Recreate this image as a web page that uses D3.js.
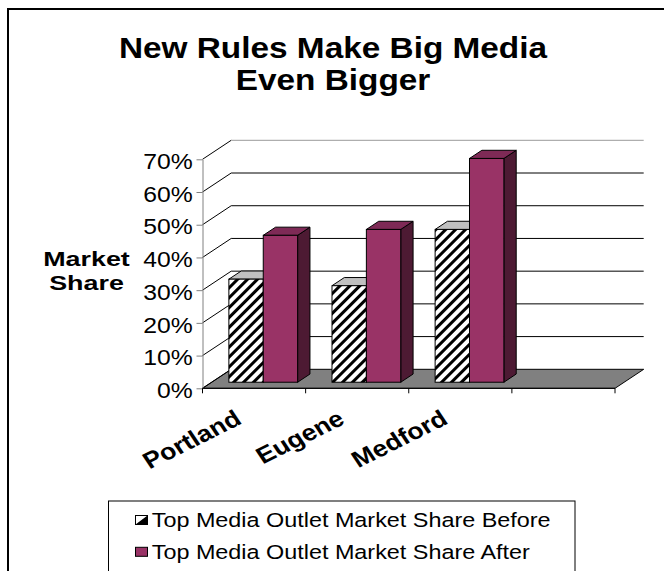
<!DOCTYPE html>
<html>
<head>
<meta charset="utf-8">
<script src="https://cdn.jsdelivr.net/npm/d3@7"></script>
<style>
  body { margin: 0; background: #fff; }
  text { font-family: "Liberation Sans", Arial, sans-serif; fill: #000; }
</style>
</head>
<body>
<div id="chart"></div>
<script>
// data (4th slot is the empty category in the original sheet)
const categories = ['Portland', 'Eugene', 'Medford', '']
const before = [0.315, 0.295, 0.467, null]
const after = [0.449, 0.467, 0.684, null]
const seriesNames = ['Top Media Outlet Market Share Before', 'Top Media Outlet Market Share After']
const yTicks = [0, 0.1, 0.2, 0.3, 0.4, 0.5, 0.6, 0.7]
const titleLines = ['New Rules Make Big Media', 'Even Bigger']
const axisTitle = ['Market', 'Share']

const W = 664, H = 571
const plot = {left: 202.5, right: 615, top: 159.3, bottom: 388.3}
const depth = {dx: 28.7, dy: -19}
const barFront = 0.32, barBack = 0.75

const svg = d3.select('#chart').append('svg')
  .attr('width', W).attr('height', H)

// text in the original is stretched sideways a bit (stretch applied after rotation)
const place = (sel, x, y, sx, rot) => sel.attr('transform',
  `translate(${x},${y}) scale(${sx},1)` + (rot ? ` rotate(${rot})` : ''))

const defs = svg.append('defs')
const hatch = defs.append('pattern')
  .attr('id', 'hatch')
  .attr('patternUnits', 'userSpaceOnUse')
  .attr('width', 7).attr('height', 7)
  .attr('patternTransform', 'rotate(45)')
hatch.append('rect').attr('width', 7).attr('height', 7).attr('fill', '#fff')
hatch.append('rect').attr('width', 3).attr('height', 7).attr('fill', '#000')

// outer frame
svg.append('rect')
  .attr('x', 8).attr('y', 9).attr('width', 700).attr('height', 620)
  .attr('fill', 'none').attr('stroke', '#000').attr('stroke-width', 2)

const x = d3.scaleBand().domain(categories).range([plot.left, plot.right])
const sub = d3.scaleBand().domain([0, 1]).range([0, x.bandwidth()]).paddingOuter(0.5)
const y = d3.scaleLinear().domain([0, 0.7]).range([plot.bottom, plot.top])

// title
svg.append('g').selectAll('text')
  .data(titleLines)
  .join('text')
    .attr('text-anchor', 'middle')
    .attr('font-size', 29)
    .attr('font-weight', 'bold')
    .text(d => d)
    .each(function(d, i) { place(d3.select(this), 333, 58.3 + i * 32, 1.15) })

// floor
const floorPts = [
  [plot.left, plot.bottom],
  [plot.left + depth.dx, plot.bottom + depth.dy],
  [plot.right + depth.dx, plot.bottom + depth.dy],
  [plot.right, plot.bottom],
]
svg.append('polygon')
  .attr('points', floorPts.map(p => p.join(',')).join(' '))
  .attr('fill', '#808080').attr('stroke', '#000')

// side wall diagonals and back wall gridlines
svg.append('g').selectAll('line')
  .data(yTicks)
  .join('line')
    .attr('x1', plot.left).attr('y1', d => y(d))
    .attr('x2', plot.left + depth.dx).attr('y2', d => y(d) + depth.dy)
    .attr('stroke', '#000')

svg.append('g').selectAll('line')
  .data(yTicks.slice(1))
  .join('line')
    .attr('x1', plot.left + depth.dx).attr('x2', plot.right + depth.dx)
    .attr('y1', d => y(d) + depth.dy).attr('y2', d => y(d) + depth.dy)
    .attr('stroke', (d, i) => i === yTicks.length - 2 ? '#9a9a9a' : '#000')

// y axis
const yAxis = svg.append('g')
  .attr('transform', `translate(${plot.left},0)`)
  .call(d3.axisLeft(y).tickValues(yTicks).tickFormat(d3.format('.0%')).tickSize(6).tickSizeOuter(0))
yAxis.select('.domain').attr('stroke', '#808080')
yAxis.selectAll('.tick line').attr('stroke', '#808080')
yAxis.selectAll('.tick text')
  .attr('x', null).attr('dy', '0.43em')
  .attr('font-size', 21.5)
  .attr('font-family', '"Liberation Sans", Arial, sans-serif')
  .attr('fill', '#000')
  .attr('transform', 'translate(-9.8,0) scale(1.15,1)')

// axis title
svg.append('g').selectAll('text')
  .data(axisTitle)
  .join('text')
    .attr('text-anchor', 'middle')
    .attr('font-size', 21)
    .attr('font-weight', 'bold')
    .text(d => d)
    .each(function(d, i) { place(d3.select(this), 86.5, 266 + i * 24, 1.28) })

// 3d columns
const bars = categories.flatMap((c, i) => [
  {c: c, s: 0, v: before[i]},
  {c: c, s: 1, v: after[i]},
]).filter(d => d.v != null)

const frontFill = ['url(#hatch)', '#993366']
const topFill = ['#c0c0c0', '#7e2a56']
const sideFill = ['#333333', '#4d1a33']
const bdx = (barBack - barFront) * depth.dx
const bdy = (barBack - barFront) * depth.dy

svg.append('g').selectAll('g')
  .data(bars)
  .join('g')
    .each(function(d) {
      const g = d3.select(this)
      const fx = x(d.c) + sub(d.s) + barFront * depth.dx
      const w = sub.bandwidth()
      const ty = y(d.v) + barFront * depth.dy
      const by = y(0) + barFront * depth.dy
      const pts = arr => arr.map(p => p.join(',')).join(' ')
      g.append('polygon')
        .attr('points', pts([[fx + w, ty], [fx + w + bdx, ty + bdy], [fx + w + bdx, by + bdy], [fx + w, by]]))
        .attr('fill', sideFill[d.s]).attr('stroke', '#000')
      g.append('polygon')
        .attr('points', pts([[fx, ty], [fx + w, ty], [fx + w + bdx, ty + bdy], [fx + bdx, ty + bdy]]))
        .attr('fill', topFill[d.s]).attr('stroke', '#000')
      g.append('rect')
        .attr('x', fx).attr('y', ty).attr('width', w).attr('height', by - ty)
        .attr('fill', frontFill[d.s]).attr('stroke', '#000')
    })

// category axis
svg.append('line')
  .attr('x1', plot.left).attr('x2', plot.right)
  .attr('y1', plot.bottom).attr('y2', plot.bottom)
  .attr('stroke', '#000')
svg.append('g').selectAll('line')
  .data(categories.map(c => x(c)).concat([plot.right]))
  .join('line')
    .attr('x1', d => d).attr('x2', d => d)
    .attr('y1', plot.bottom).attr('y2', plot.bottom + 5)
    .attr('stroke', '#000')

svg.append('g').selectAll('text')
  .data(categories.filter(c => c !== ''))
  .join('text')
    .attr('text-anchor', 'end')
    .attr('font-size', 23)
    .attr('font-weight', 'bold')
    .text(d => d)
    .each(function(d) { place(d3.select(this), x(d) + x.bandwidth() / 2 - 11, 423, 1.16, -30) })

// legend
const legend = svg.append('g')
legend.append('rect')
  .attr('x', 108.5).attr('y', 501).attr('width', 466.5).attr('height', 100)
  .attr('fill', '#fff').attr('stroke', '#000')
const rows = legend.selectAll('g')
  .data(seriesNames)
  .join('g')
    .attr('transform', (d, i) => `translate(0,${520 + i * 31.8})`)
rows.append('rect')
  .attr('x', 135.5).attr('y', -4.5).attr('width', 12).attr('height', 9)
  .attr('fill', (d, i) => i === 0 ? '#fff' : '#993366')
  .attr('stroke', '#000')
rows.filter((d, i) => i === 0).append('polygon')
  .attr('points', '147.5,-4.5 147.5,4.5 135.5,4.5')
  .attr('fill', '#000')
rows.append('text')
  .attr('font-size', 19.5)
  .text(d => d)
  .each(function() { place(d3.select(this), 151.7, 6.7, 1.2) })
</script>
</body>
</html>
